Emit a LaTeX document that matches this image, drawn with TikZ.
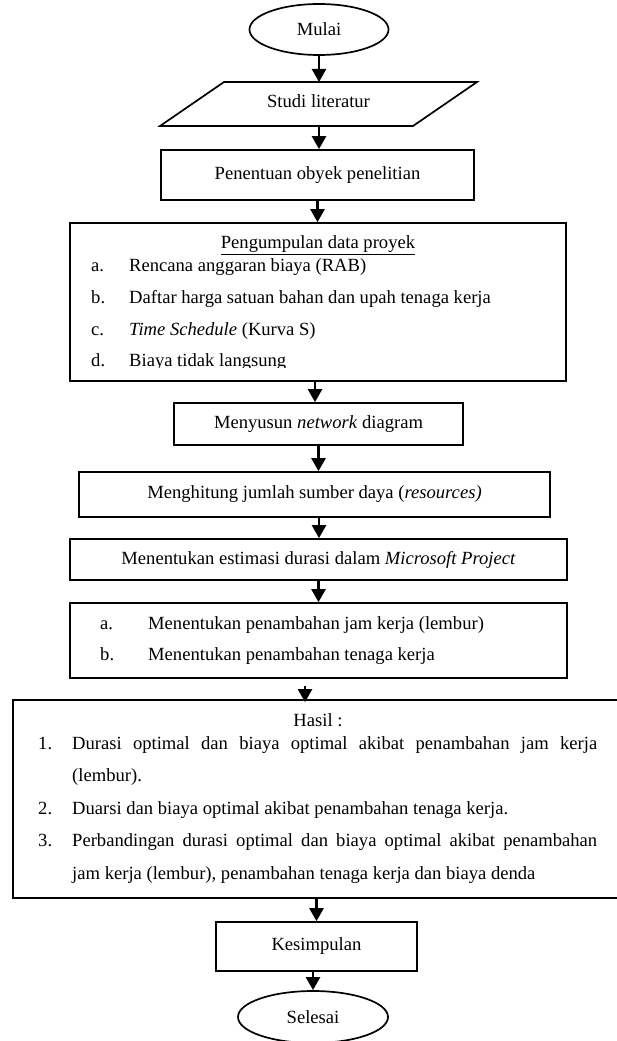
\documentclass[tikz,border=0pt]{standalone}
\usepackage{fontspec}
\setmainfont{Liberation Serif}
\usetikzlibrary{arrows.meta,shapes.geometric}
\begin{document}
\begin{tikzpicture}[x=1pt,y=-1pt,
  font=\fontsize{18.6}{22}\selectfont,
  box/.style={draw, line width=1.7pt, inner sep=0pt, rectangle},
  term/.style={draw, ellipse, line width=1.7pt, inner sep=0pt},
  arr/.style={line width=2.4pt, -{Triangle[length=13pt,width=14pt]}},
  txt/.style={inner sep=0pt, anchor=mid},
  ltxt/.style={inner sep=0pt, anchor=mid west}]
\useasboundingbox (0,0) rectangle (617,1041);
\clip (0,0) rectangle (617,1041);

% Start
\node[term, minimum width=139pt, minimum height=51pt] (mulai) at (319,29.5) {Mulai};

% Parallelogram
\draw[line width=1.7pt] (224,82) -- (477,82) -- (413,126) -- (160,126) -- cycle;
\node[txt] (studi) at (318.5,105) {Studi literatur};
\coordinate (studiN) at (319,82);
\coordinate (studiS) at (319,126);

\node[box, minimum width=313pt, minimum height=50pt] (pen) at (317.5,175) {Penentuan obyek penelitian};

% Data collection box
\node[box, minimum width=496pt, minimum height=158pt] (data) at (318,302) {};
\node[txt] (dtitle) at (318,246) {\underline{Pengumpulan data proyek}};
\begin{scope}
\clip (70,223) rectangle (566,367.5);
\node[ltxt] (dla) at (91,269) {a.};
\node[ltxt] (dta) at (129,269) {Rencana anggaran biaya (RAB)};
\node[ltxt] (dlb) at (91,301) {b.};
\node[ltxt] (dtb) at (129,301) {Daftar harga satuan bahan dan upah tenaga kerja};
\node[ltxt] (dlc) at (91,333) {c.};
\node[ltxt] (dtc) at (129,333) {\textit{Time Schedule} (Kurva S)};
\node[ltxt] (dld) at (91,364) {d.};
\node[ltxt] (dtd) at (129,364) {Biaya tidak langsung};
\end{scope}

\node[box, minimum width=289pt, minimum height=42pt] (nyu) at (318.5,424) {Menyusun \textit{network} diagram};
\node[box, minimum width=471pt, minimum height=45pt] (hit) at (314.5,494.5) {Menghitung jumlah sumber daya (\textit{resources)}};
\node[box, minimum width=497pt, minimum height=41pt] (ment) at (318.5,559.5) {Menentukan estimasi durasi dalam \textit{Microsoft Project}};

% a/b box
\node[box, minimum width=497pt, minimum height=75pt] (ab) at (318.5,640.5) {};
\node[ltxt] (abla) at (100,627) {a.};
\node[ltxt] (abta) at (148,627) {Menentukan penambahan jam kerja (lembur)};
\node[ltxt] (ablb) at (100,658) {b.};
\node[ltxt] (abtb) at (148,658) {Menentukan penambahan tenaga kerja};

% Result box
\node[box, minimum width=627pt, minimum height=198pt] (hasil) at (326.5,799) {};
\node[txt] (htitle) at (318,724) {Hasil :};
\node[ltxt] (hl1) at (38,747) {1.};
\node[ltxt] (ht1) at (72,747) {\makebox[525pt][s]{Durasi optimal dan biaya optimal akibat penambahan jam kerja}};
\node[ltxt] (ht1b) at (72,779) {(lembur).};
\node[ltxt] (hl2) at (38,812) {2.};
\node[ltxt] (ht2) at (72,812) {Duarsi dan biaya optimal akibat penambahan tenaga kerja.};
\node[ltxt] (hl3) at (38,844) {3.};
\node[ltxt] (ht3) at (72,844) {\makebox[525pt][s]{Perbandingan durasi optimal dan biaya optimal akibat penambahan}};
\node[ltxt] (ht3b) at (72,877) {jam kerja (lembur), penambahan tenaga kerja dan biaya denda};

\node[box, minimum width=201pt, minimum height=49pt] (kes) at (316.5,946.5) {Kesimpulan};
\node[term, minimum width=150pt, minimum height=52pt] (sel) at (313,1017) {Selesai};

% Connectors
\coordinate (c1) at (315,381);
\coordinate (abgap) at (305,686);
\draw[arr] (mulai.south) -- (studiN);
\draw[arr] (studiS) -- (studiS |- pen.north);
\draw[arr] (pen.south) -- (pen.south |- data.north);
\draw[arr] (c1) -- (c1 |- nyu.north);
\draw[arr] (nyu.south) -- (nyu.south |- hit.north);
\draw[arr] ([xshift=4.5pt]hit.south) -- ([xshift=4.5pt]hit.south |- ment.north);
\draw[arr] (ment.south) -- (ment.south |- ab.north);
\draw[arr] (abgap) -- ([yshift=-3pt]abgap |- hasil.north);
\draw[arr] (kes.north |- hasil.south) -- (kes.north);
\draw[arr] (sel.north |- kes.south) -- (sel.north);
\end{tikzpicture}
\end{document}
